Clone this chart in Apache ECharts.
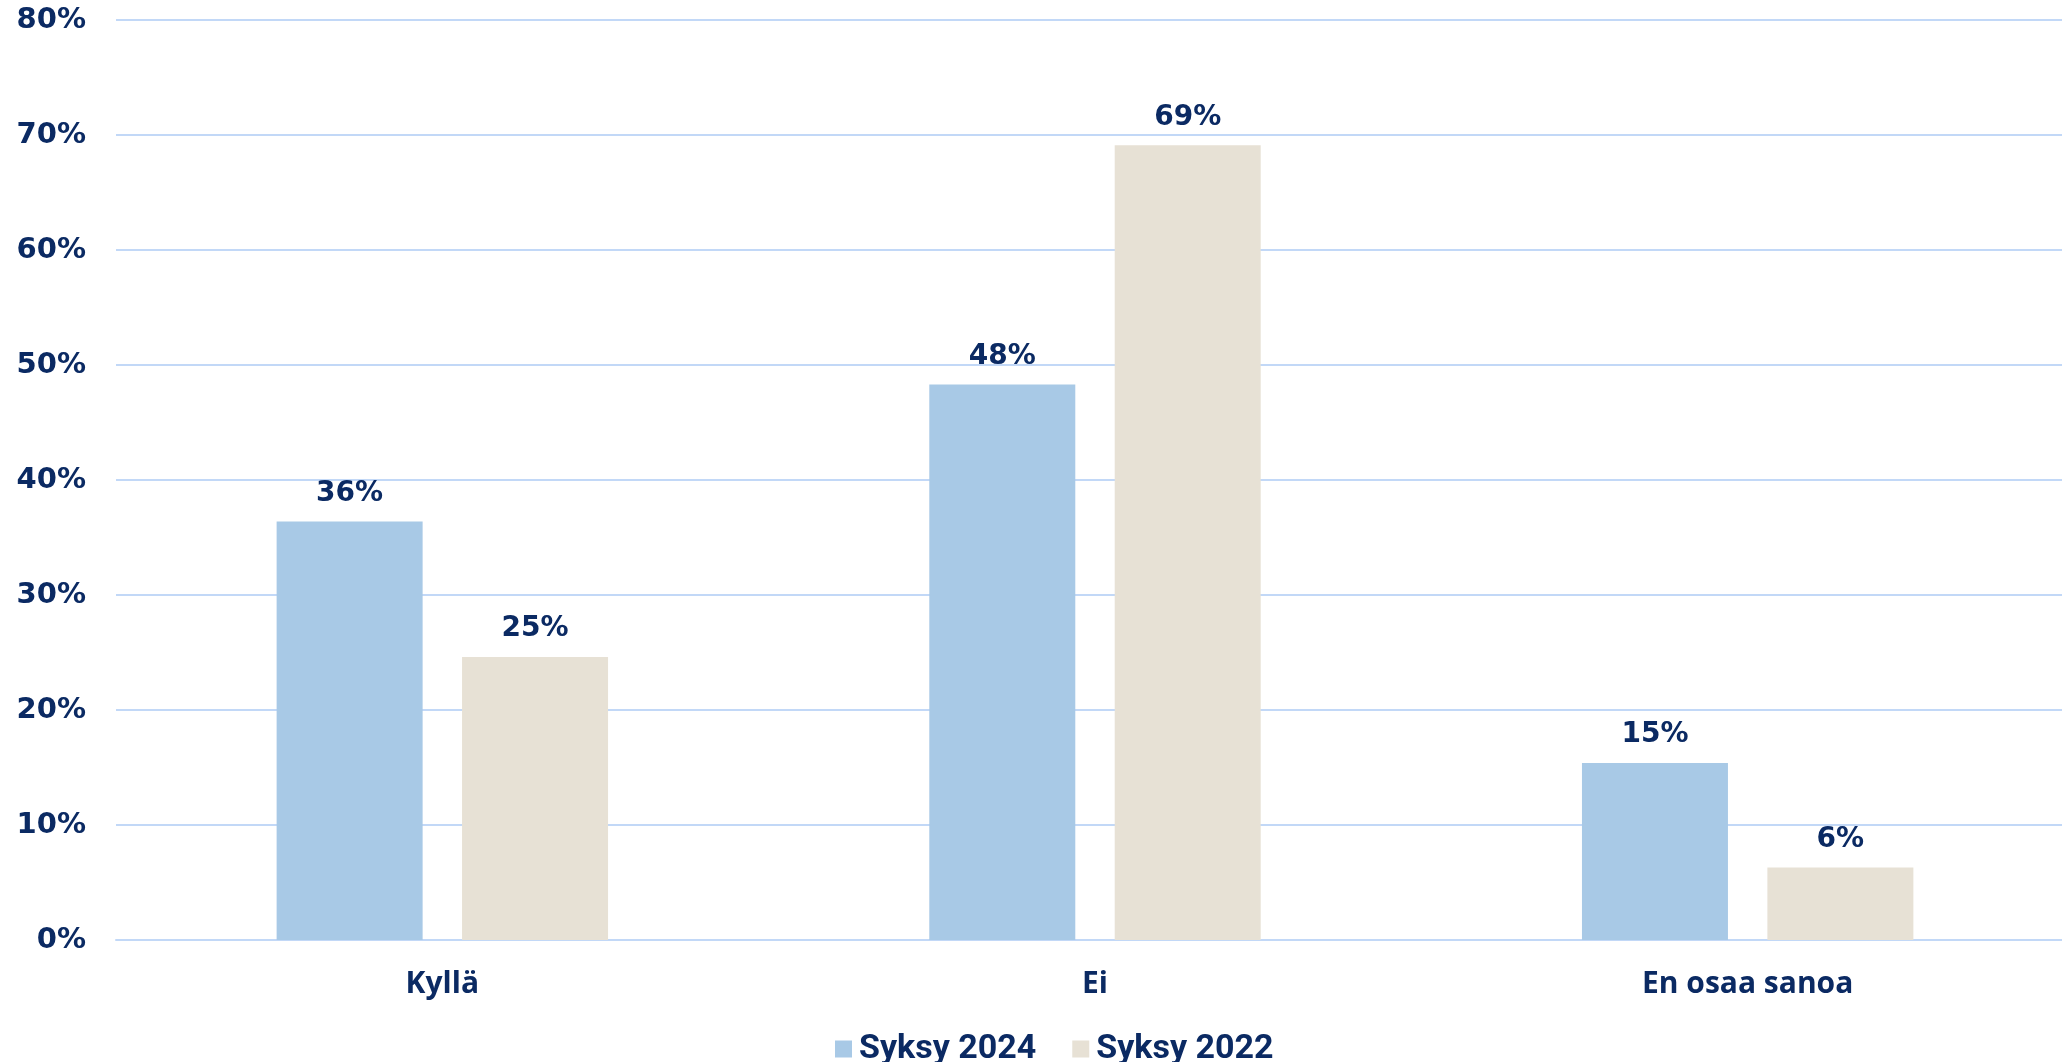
<!DOCTYPE html>
<html>
<head>
<meta charset="utf-8">
<script src="https://cdn.jsdelivr.net/npm/echarts@6/dist/echarts.min.js"></script>
<style>
    html, body { margin: 0; padding: 0; background: #ffffff; }
    #chart { width: 2062px; height: 1062px; }
</style>
</head>
<body>
<div id="chart"></div>
<script>
const categories = ["Kyllä", "Ei", "En osaa sanoa"];
const syksy2024 = [36.4, 48.3, 15.4];
const syksy2022 = [24.6, 69.1, 6.3];
const seriesNames = ["Syksy 2024", "Syksy 2022"];

const navy = "#0b2a63";
const gridColor = "#c2d8f7";

const labelStyle = {
    show: true,
    position: "top",
    distance: 14,
    color: navy,
    fontFamily: "DejaVu Sans",
    fontWeight: "bold",
    fontSize: 28,
    formatter: (p) => Math.round(p.value) + "%"
};

const myChart = echarts.init(document.getElementById("chart"));

myChart.setOption({
    animation: false,
    grid: { left: 116, width: 1958, top: 20, bottom: 122, containLabel: false, outerBoundsMode: "none" },
    legend: {
        data: seriesNames,
        left: 830,
        top: 1027,
        itemWidth: 17,
        itemHeight: 17,
        itemGap: 36,
        icon: "rect",
        textStyle: { color: navy, fontFamily: "Roboto", fontWeight: "bold", fontSize: 34, padding: [0, 0, 0, 2] }
    },
    xAxis: {
        type: "category",
        data: categories,
        axisLine: { lineStyle: { color: gridColor, width: 2 } },
        axisTick: { show: false },
        axisLabel: {
            margin: 29,
            color: navy,
            fontFamily: "Open Sans",
            fontWeight: "bold",
            fontSize: 30
        }
    },
    yAxis: {
        type: "value",
        min: 0,
        max: 80,
        interval: 10,
        axisLine: { show: false },
        axisTick: { show: false },
        splitLine: { lineStyle: { color: gridColor, width: 2 } },
        axisLabel: {
            margin: 30,
            color: navy,
            fontFamily: "DejaVu Sans",
            fontWeight: "bold",
            fontSize: 29,
            formatter: "{value}%"
        }
    },
    series: [
        {
            name: seriesNames[0],
            type: "bar",
            data: syksy2024,
            barWidth: 146,
            barGap: "27%",
            itemStyle: { color: "#a8c9e6" },
            label: labelStyle
        },
        {
            name: seriesNames[1],
            type: "bar",
            data: syksy2022,
            barWidth: 146,
            barGap: "27%",
            itemStyle: { color: "#e7e1d5" },
            label: labelStyle
        }
    ]
});
</script>
</body>
</html>
